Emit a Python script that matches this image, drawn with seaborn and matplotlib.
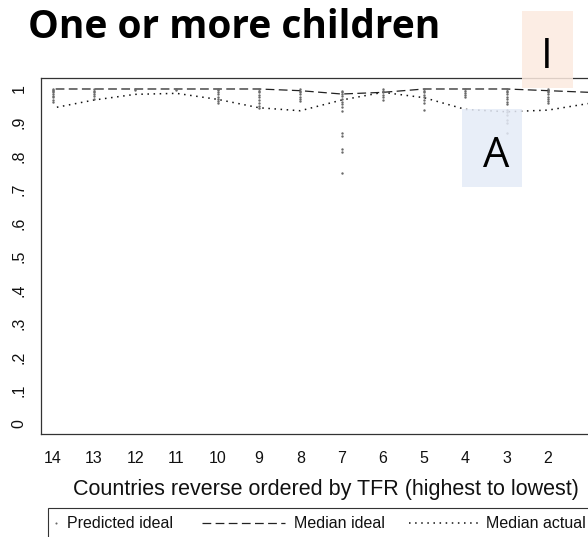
import numpy as np
import pandas as pd
import matplotlib
matplotlib.use("Agg")
import matplotlib.pyplot as plt
import seaborn as sns
from matplotlib.patches import Rectangle
from matplotlib.lines import Line2D

# countries, reverse ordered by TFR (14 = highest)
countries = [14, 13, 12, 11, 10, 9, 8, 7, 6, 5, 4, 3, 2, 1]

median_ideal = [1.0, 1.0, 1.0, 1.0, 1.0, 1.0, 0.995, 0.985, 0.99, 1.0, 1.0, 1.0, 0.995, 0.99]
median_actual = [0.943, 0.967, 0.984, 0.987, 0.969, 0.944, 0.935, 0.967, 0.99, 0.974, 0.939, 0.932, 0.937, 0.957]

# predicted ideal values, one list per country (same order as countries)
predicted_ideal = [
    [1.0, 0.997, 0.993, 0.99, 0.985, 0.98, 0.975, 0.968, 0.961],
    [1.0, 0.995, 0.99, 0.985, 0.978, 0.97],
    [1.0, 0.998],
    [1.0, 0.998],
    [1.0, 0.996, 0.99, 0.984, 0.977, 0.97, 0.963, 0.957],
    [1.0, 0.995, 0.99, 0.982, 0.975, 0.966, 0.958, 0.95, 0.943],
    [1.0, 0.995, 0.99, 0.984, 0.977, 0.97, 0.963],
    [0.995, 0.99, 0.985, 0.978, 0.97, 0.962, 0.955, 0.945, 0.935, 0.868, 0.86, 0.82, 0.811, 0.75],
    [1.0, 0.995, 0.99, 0.983, 0.975, 0.966],
    [1.0, 0.995, 0.99, 0.983, 0.975, 0.966, 0.957, 0.936],
    [1.0, 0.995, 0.988, 0.981, 0.975],
    [1.0, 0.995, 0.99, 0.984, 0.977, 0.97, 0.962, 0.955, 0.937, 0.93, 0.922, 0.907, 0.898, 0.869],
    [1.0, 0.995, 0.99, 0.984, 0.977, 0.97, 0.963, 0.958],
    [1.0, 0.995, 0.99, 0.985, 0.978, 0.97],
]

x_ticks = [14, 13, 12, 11, 10, 9, 8, 7, 6, 5, 4, 3, 2]
y_ticks = [0, 0.1, 0.2, 0.3, 0.4, 0.5, 0.6, 0.7, 0.8, 0.9, 1.0]
y_tick_labels = ["0", ".1", ".2", ".3", ".4", ".5", ".6", ".7", ".8", ".9", "1"]

pred_df = pd.DataFrame(
    [(c, v) for c, vals in zip(countries, predicted_ideal) for v in vals],
    columns=["country", "value"],
)
med_df = pd.DataFrame({"country": countries,
                       "median_ideal": median_ideal,
                       "median_actual": median_actual})

sns.set_style("white")
plt.rcParams["font.family"] = ["Liberation Sans", "DejaVu Sans"]

W, H = 588, 537
fig = plt.figure(figsize=(W / 100, H / 100), dpi=100)
# plot region runs past the right edge of the picture
ax = fig.add_axes([41 / W, (H - 434) / H, (610 - 41) / W, (434 - 77.5) / H])

dash_style = (0, (7, 3.5))
dot_style = (0, (1, 3))

sns.scatterplot(data=pred_df, x="country", y="value", ax=ax, s=3,
                color="#6a6a6a", marker="o", linewidth=0, legend=False, zorder=3)
sns.lineplot(data=med_df, x="country", y="median_ideal", ax=ax, color="#222222",
             linewidth=0.9, linestyle=dash_style, zorder=2)
sns.lineplot(data=med_df, x="country", y="median_actual", ax=ax, color="#111111",
             linewidth=1.1, linestyle=dot_style, zorder=2)

ax.set_xlim(14.28, 0.5)
ax.set_ylim(-0.0299, 1.0343)
ax.set_xticks(x_ticks)
ax.set_xticklabels([str(t) for t in x_ticks])
ax.set_yticks(y_ticks)
ax.set_yticklabels(y_tick_labels, rotation=90, va="center")
ax.tick_params(direction="out", length=4.8, width=0.8, color="#333333",
               labelsize=11.5, labelcolor="#111111")
ax.tick_params(axis="x", pad=7.5)
ax.tick_params(axis="y", pad=5.5)
ax.set_ylabel("")
ax.set_xlabel("Countries reverse ordered by TFR (highest to lowest)",
              fontsize=15.5, color="#111111", labelpad=9)
for sp in ax.spines.values():
    sp.set_color("#333333")
    sp.set_linewidth(0.9)

# legend: three pieces inside one frame that runs off the picture
ly = (H - 524) / H
leg_kw = dict(frameon=False, loc="center left", borderpad=0, borderaxespad=0,
              fontsize=11.5, labelcolor="#111111")
h1 = Line2D([], [], linestyle="none", marker="o", markersize=1.5,
            color="#6a6a6a", markeredgewidth=0)
h2 = Line2D([], [], color="#222222", linewidth=0.9, linestyle=dash_style)
h3 = Line2D([], [], color="#111111", linewidth=1.1, linestyle=dot_style)
fig.legend([h1], ["Predicted ideal"], bbox_to_anchor=(52 / W, ly),
           handlelength=0.5, handletextpad=0.42, **leg_kw)
fig.legend([h2], ["Median ideal"], bbox_to_anchor=(202 / W, ly),
           handlelength=5.2, handletextpad=0.56, **leg_kw)
fig.legend([h3], ["Median actual"], bbox_to_anchor=(409 / W, ly),
           handlelength=4.3, handletextpad=0.5, **leg_kw)
fig.add_artist(Rectangle((47.5 / W, -0.1), 1.0, (H - 507.5) / H + 0.1,
                         transform=fig.transFigure, fill=False,
                         edgecolor="#333333", linewidth=0.8))

# title
fig.text(28 / W, (H - 38) / H, "One or more children", fontsize=28,
         fontweight="bold", family=["Open Sans", "DejaVu Sans"],
         va="baseline", ha="left", color="black")

# overlay boxes "I" and "A"
fig.add_artist(Rectangle((522 / W, (H - 88) / H), 51 / W, 77 / H,
                         transform=fig.transFigure, facecolor="#FCEAE0",
                         edgecolor="none", alpha=0.85, zorder=5))
fig.text(547 / W, (H - 68) / H, "I", fontsize=30, family=["Open Sans", "DejaVu Sans"],
         ha="center", va="baseline", color="black", zorder=6)
fig.add_artist(Rectangle((462 / W, (H - 187) / H), 60 / W, 78 / H,
                         transform=fig.transFigure, facecolor="#E5EBF7",
                         edgecolor="none", alpha=0.85, zorder=5))
fig.text(496 / W, (H - 167) / H, "A", fontsize=30, family=["Open Sans", "DejaVu Sans"],
         ha="center", va="baseline", color="black", zorder=6)

fig.savefig("out.png", dpi=100)
